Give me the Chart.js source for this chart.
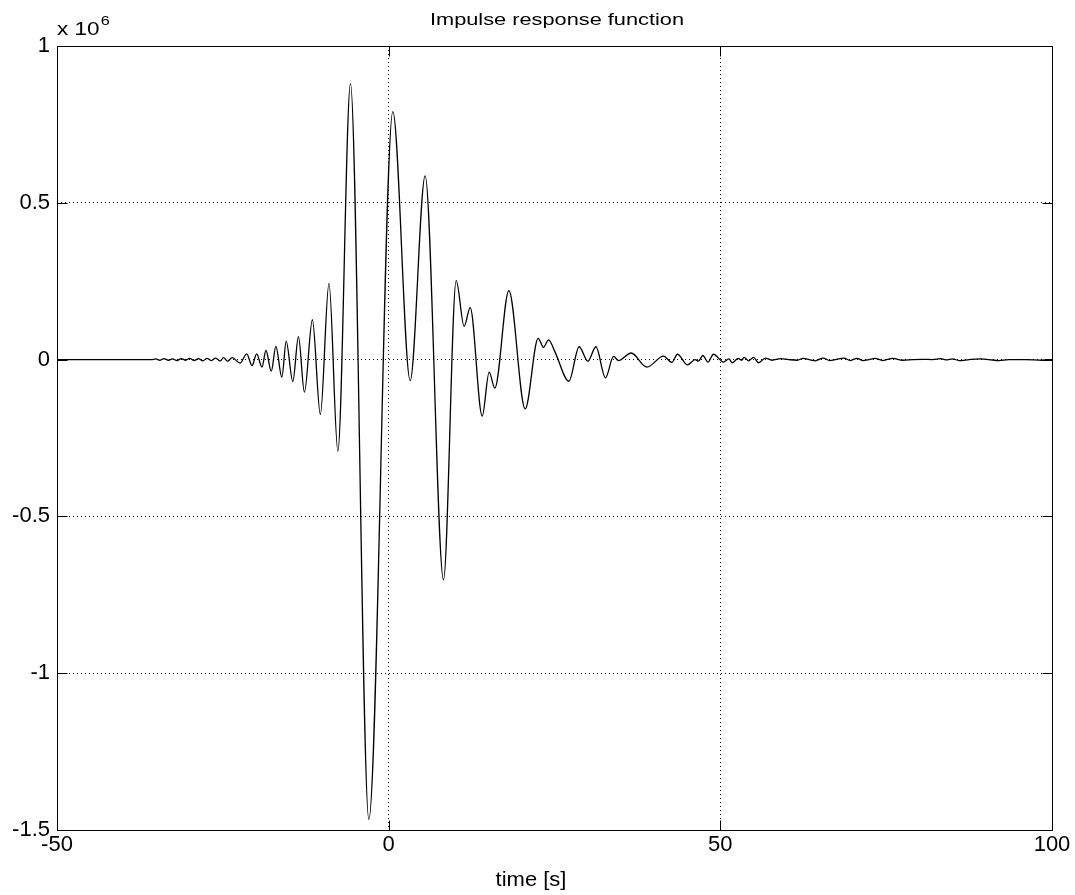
<!DOCTYPE html>
<html>
<head>
<meta charset="utf-8">
<script src="https://cdn.jsdelivr.net/npm/chart.js@4/dist/chart.umd.min.js"></script>
<style>
  html, body { margin: 0; padding: 0; background: #fff; }
  #wrap { width: 1075px; height: 895px; }
</style>
</head>
<body>
<div id="wrap"><canvas id="irf" width="1075" height="895"></canvas></div>
<script>
// impulse response, time in seconds, amplitude in units of 10^6
const timeS = [
  -50, -35.8, -35.1, -34.5, -33.9, -33.2, -32.6, -31.9, -31.3, -30.6, -30.0,
  -29.3, -28.7, -28.0, -27.4, -26.7, -26.1, -25.4, -24.9, -24.3, -23.6,
  -22.4, -21.4, -20.6, -19.9, -19.1, -18.5, -17.7, -17.0, -16.1, -15.45,
  -14.45, -13.6, -12.7, -11.5, -10.3, -9.0, -7.66, -5.76, -2.99, 0.63,
  3.24, 5.5, 8.27, 10.18, 11.38, 12.29, 14.1, 15.15, 16.0, 18.12,
  20.58, 22.54, 23.34, 24.1, 25.1, 27.17, 28.72, 30.03, 31.24, 32.69,
  33.9, 34.65, 36.56, 38.93, 41.43, 42.7, 43.54, 45.05, 46.2, 46.7,
  47.37, 48.12, 48.97, 50.47, 51.3, 51.8, 52.7, 53.2, 53.6, 54.25,
  55.0, 55.77, 56.8, 57.8, 59.1, 60.3, 61.6, 62.5, 63.4, 64.3,
  65.5, 66.5, 67.5, 68.6, 69.6, 70.6, 71.5, 72.4, 73.3, 74.5,
  75.2, 76.0, 77.5, 79.0, 80.5, 82.0, 83.2, 84.2, 85.0, 86.0,
  87.5, 89.2, 90.5, 92.0, 93.5, 96.0, 98.5, 99.2, 100
];
const responseE6 = [
  0, 0, 0.002, -0.002, 0.003, -0.002, 0.002, -0.003, 0.003, -0.002, 0.004,
  -0.003, 0.003, -0.004, 0.004, -0.003, 0.005, -0.004, 0.006, -0.005, 0.006,
  -0.011, 0.018, -0.019, 0.018, -0.024, 0.029, -0.037, 0.042, -0.056, 0.058,
  -0.070, 0.073, -0.104, 0.127, -0.175, 0.243, -0.292, 0.880, -1.466, 0.791,
  -0.067, 0.586, -0.702, 0.252, 0.106, 0.166, -0.180, -0.040, -0.091, 0.220,
  -0.157, 0.068, 0.039, 0.063, 0.023, -0.069, 0.041, -0.005, 0.041, -0.058,
  0.010, -0.003, 0.021, -0.024, 0.011, -0.009, 0.017, -0.017, 0.000, -0.005,
  0.013, -0.008, 0.017, -0.008, 0.002, -0.010, 0.004, -0.002, 0.007, -0.004,
  0.007, -0.010, 0.005, -0.002, 0.003, 0.000, -0.002, 0.004, 0.000, -0.004,
  0.005, -0.003, 0.001, 0.005, -0.003, 0.004, -0.003, 0.000, 0.004, -0.003,
  0.001, 0.004, -0.002, 0.000, 0.001, 0.000, 0.003, -0.001, 0.002, -0.003,
  0.000, 0.002, 0.000, -0.003, 0.000, 0.000, -0.002, 0.000, 0
];
const xTicks = [-50, 0, 50, 100];
const yTicks = [1, 0.5, 0, -0.5, -1, -1.5];
const TITLE = 'Impulse response function';
const XLABEL = 'time [s]';

const FONT = '"Liberation Sans", Arial, Helvetica, sans-serif';

const points = timeS.map((t, i) => ({ x: t, y: responseE6[i] }));

// matlab style box, inward ticks and the texts round the axes
const framePlugin = {
  id: 'frame',
  afterDatasetsDraw(chart) {
    const { ctx, chartArea: a, scales: { x, y } } = chart;
    const L = Math.round(a.left) + 0.5, R = Math.round(a.right) + 0.5;
    const T = Math.round(a.top) + 0.5, B = Math.round(a.bottom) + 0.5;
    const len = 10;
    ctx.save();
    ctx.strokeStyle = '#000';
    ctx.lineWidth = 1;
    ctx.beginPath();
    ctx.rect(L, T, R - L, B - T);
    xTicks.forEach(v => {
      const px = Math.round(x.getPixelForValue(v)) + 0.5;
      ctx.moveTo(px, B); ctx.lineTo(px, B - len);
      ctx.moveTo(px, T); ctx.lineTo(px, T + len);
    });
    yTicks.forEach(v => {
      const py = Math.round(y.getPixelForValue(v)) + 0.5;
      ctx.moveTo(L, py); ctx.lineTo(L + len, py);
      ctx.moveTo(R, py); ctx.lineTo(R - len, py);
    });
    ctx.stroke();

    ctx.fillStyle = '#000';
    ctx.textBaseline = 'alphabetic';

    ctx.save();
    ctx.font = '17px ' + FONT;
    ctx.textAlign = 'center';
    ctx.translate(557, 25);
    ctx.scale(1.28, 1);
    ctx.fillText(TITLE, 0, 0);
    ctx.restore();

    ctx.save();
    ctx.font = '18px ' + FONT;
    ctx.textAlign = 'left';
    ctx.translate(57, 35);
    ctx.scale(1.25, 1);
    ctx.fillText('x 10', 0, 0);
    ctx.font = '13px ' + FONT;
    ctx.fillText('6', 35, -10);
    ctx.restore();

    ctx.save();
    ctx.font = '20px ' + FONT;
    ctx.textAlign = 'center';
    ctx.translate(531, 886);
    ctx.scale(1.1, 1);
    ctx.fillText(XLABEL, 0, 0);
    ctx.restore();

    ctx.restore();
  }
};

new Chart(document.getElementById('irf'), {
  type: 'line',
  data: {
    datasets: [{
      label: 'impulse response',
      data: points,
      borderColor: '#000',
      borderWidth: 1.3,
      pointRadius: 0,
      cubicInterpolationMode: 'monotone',
      fill: false
    }]
  },
  options: {
    responsive: false,
    animation: false,
    devicePixelRatio: 1,
    layout: { padding: { left: 0, right: 23, top: 46, bottom: 0 } },
    plugins: {
      legend: { display: false },
      title: { display: false },
      tooltip: { enabled: false }
    },
    scales: {
      x: {
        type: 'linear',
        min: -50,
        max: 100,
        afterBuildTicks: s => { s.ticks = xTicks.map(v => ({ value: v })); },
        afterFit: s => { s.height = 65; },
        ticks: {
          color: '#000',
          font: { family: FONT, size: 22 },
          padding: 2,
          maxRotation: 0,
          autoSkip: false,
          callback: v => String(v)
        },
        grid: { color: '#000', lineWidth: 1, drawTicks: false },
        border: { display: false, dash: [1, 3] }
      },
      y: {
        min: -1.5,
        max: 1,
        afterBuildTicks: s => { s.ticks = yTicks.map(v => ({ value: v })); },
        afterFit: s => { s.width = 57; },
        ticks: {
          color: '#000',
          font: { family: FONT, size: 22 },
          padding: 7,
          autoSkip: false,
          callback: v => String(v)
        },
        grid: { color: '#000', lineWidth: 1, drawTicks: false },
        border: { display: false, dash: [1, 3] }
      }
    }
  },
  plugins: [framePlugin]
});
</script>
</body>
</html>
